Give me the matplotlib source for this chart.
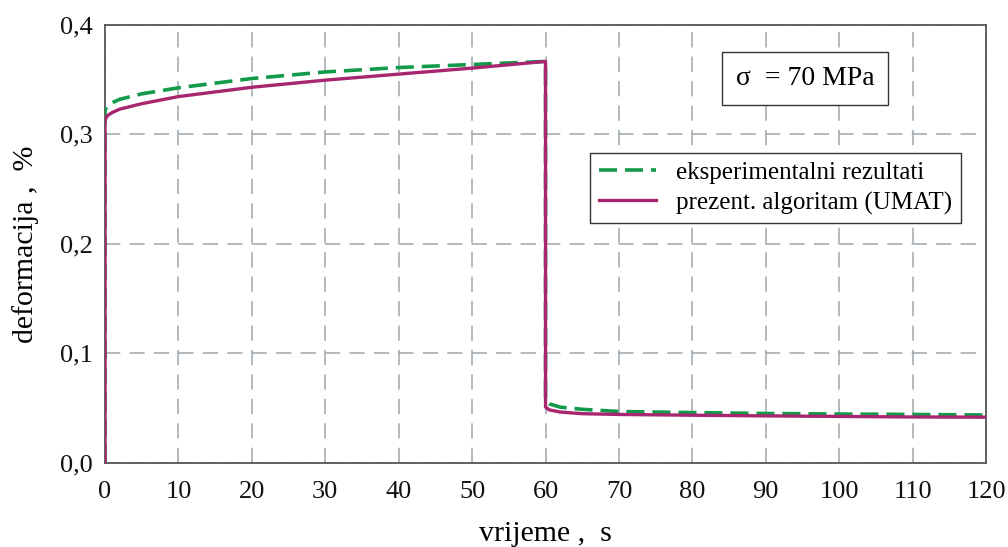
import matplotlib
matplotlib.use("Agg")
import matplotlib.pyplot as plt

# experimental results (green dashed)
t_exp = [0, 0, 0.3, 1, 2, 5, 10, 20, 30, 40, 50, 60, 60, 60.5, 62, 65, 70, 80, 90, 100, 110, 120]
e_exp = [0, 0.322, 0.326, 0.329, 0.332, 0.337, 0.3425, 0.351, 0.357, 0.361, 0.3638, 0.3666,
         0.0565, 0.054, 0.051, 0.049, 0.047, 0.046, 0.0452, 0.0447, 0.0443, 0.0438]
# presented algorithm UMAT (magenta solid)
t_umat = [0, 0, 0.3, 1, 2, 5, 10, 20, 30, 40, 50, 60, 60, 60.5, 62, 65, 70, 80, 90, 100, 110, 120]
e_umat = [0, 0.313, 0.317, 0.320, 0.323, 0.328, 0.3345, 0.343, 0.3495, 0.355, 0.3605, 0.3666,
          0.051, 0.0485, 0.0465, 0.045, 0.0443, 0.0436, 0.0430, 0.0425, 0.0420, 0.0418]

x_ticks = [0, 10, 20, 30, 40, 50, 60, 70, 80, 90, 100, 110, 120]
y_ticks = [0.0, 0.1, 0.2, 0.3, 0.4]
y_labels = ["0,0", "0,1", "0,2", "0,3", "0,4"]

plt.rcParams['font.family'] = ['Liberation Serif', 'DejaVu Serif']

fig = plt.figure(figsize=(10.08, 5.47), dpi=100)
ax = fig.add_axes([0.1042, 0.1536, 0.8740, 0.8010])

green = '#13994a'
magenta = '#a8266f'

ax.plot(t_exp, e_exp, color=green, lw=2.6, ls=(0, (5, 2.2)), label='eksperimentalni rezultati', zorder=3)
ax.plot(t_umat, e_umat, color=magenta, lw=2.4, ls='-', label='prezent. algoritam (UMAT)', zorder=4)

ax.set_xlim(0, 120)
ax.set_ylim(0, 0.4)
ax.set_xticks(x_ticks)
ax.set_xticklabels([str(v) for v in x_ticks])
ax.set_yticks(y_ticks)
ax.set_yticklabels(y_labels)
ax.tick_params(axis='both', which='both', length=0, labelsize=19, colors='#111111')
ax.tick_params(axis='x', pad=13)
ax.tick_params(axis='y', pad=9)
ax.grid(True, color='#9ea7ae', ls=(0, (10, 6)), lw=1.1)
for s in ax.spines.values():
    s.set_color('#555555')
    s.set_linewidth(1.3)

ax.set_xlabel('vrijeme ,  s', fontsize=21.5, labelpad=13)
ax.set_ylabel('deformacija ,  %', fontsize=21.5, labelpad=15)

leg = ax.legend(loc='upper right', bbox_to_anchor=(0.9716, 0.708), fontsize=18,
                frameon=True, fancybox=False, framealpha=1, edgecolor='#333333',
                borderaxespad=0, handlelength=2.3, borderpad=0.35, labelspacing=0.3,
                handletextpad=0.8)
leg.get_frame().set_linewidth(1.0)

ax.text(0.7945, 0.877, '\u03c3  = 70 MPa', fontsize=20, ha='center', va='center',
        transform=ax.transAxes,
        bbox=dict(boxstyle='square,pad=0.5', fc='white', ec='#333333', lw=1.0), zorder=5)

fig.savefig('out.png', dpi=100)
